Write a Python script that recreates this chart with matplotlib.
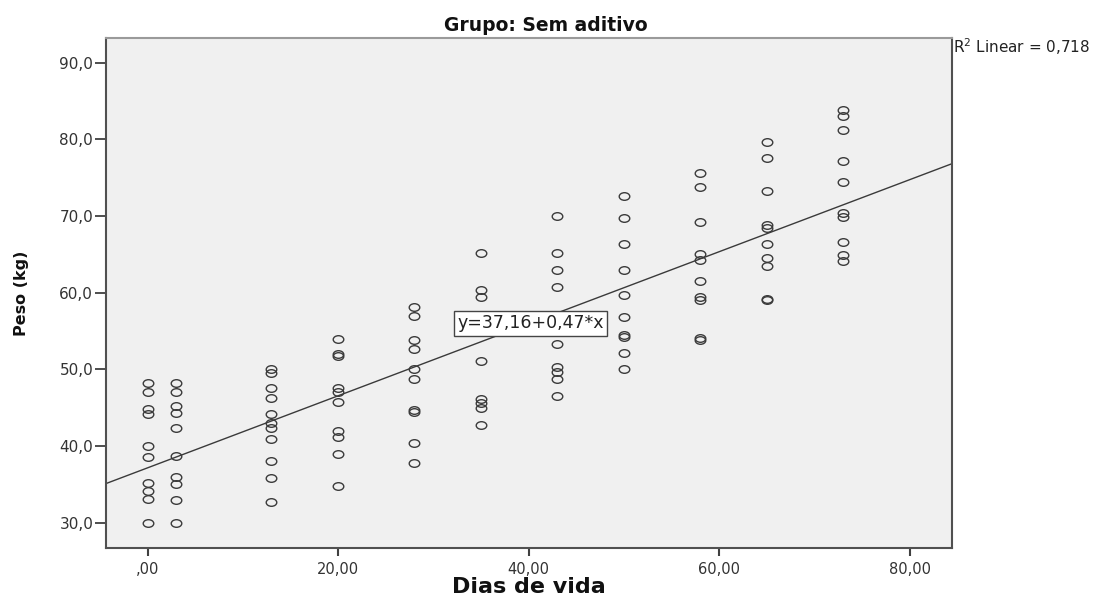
import numpy as np
import matplotlib
matplotlib.use("Agg")
import matplotlib.pyplot as plt
from matplotlib.path import Path

# ---- data ----
days = [0, 3, 13, 20, 28, 35, 43, 50, 58, 65, 73]
weights = [
    [48.2, 47.0, 44.8, 44.2, 40.0, 38.6, 35.2, 34.1, 33.1, 30.0],          # 0
    [48.2, 47.0, 45.2, 44.3, 42.4, 38.7, 36.0, 35.0, 33.0, 30.0],          # 3
    [50.0, 49.5, 47.6, 46.3, 44.2, 43.0, 42.4, 40.9, 38.0, 35.8, 32.7],    # 13
    [54.0, 52.0, 51.7, 47.6, 47.0, 45.7, 42.0, 41.2, 39.0, 34.8],          # 20
    [58.2, 57.0, 53.8, 52.7, 50.0, 48.8, 44.7, 44.5, 40.4, 37.8],          # 28
    [65.2, 60.3, 59.5, 51.1, 46.2, 45.6, 45.0, 42.7],                      # 35
    [70.0, 65.2, 63.0, 60.8, 53.3, 50.3, 49.6, 48.8, 46.5],                # 43
    [72.6, 69.7, 66.4, 63.0, 59.7, 56.8, 54.5, 54.2, 52.1, 50.0],          # 50
    [75.6, 73.8, 69.2, 65.1, 64.3, 61.6, 59.4, 59.1, 54.1, 53.9],          # 58
    [79.7, 77.6, 73.3, 68.9, 68.5, 66.4, 64.6, 63.5, 59.2, 59.0],          # 65
    [83.8, 83.0, 81.2, 77.2, 74.5, 70.4, 69.9, 66.6, 64.9, 64.2],          # 73
]
fit_intercept = 37.16
fit_slope = 0.47
r2_value = "0,718"
title = "Grupo: Sem aditivo"
xlabel = "Dias de vida"
ylabel = "Peso (kg)"
eq_label = "y=37,16+0,47*x"
xticks = [0, 20, 40, 60, 80]
xticklabels = [",00", "20,00", "40,00", "60,00", "80,00"]
yticks = [30, 40, 50, 60, 70, 80, 90]
yticklabels = ["30,0", "40,0", "50,0", "60,0", "70,0", "80,0", "90,0"]

x_all = np.concatenate([[d] * len(w) for d, w in zip(days, weights)])
y_all = np.concatenate(weights)

fig = plt.figure(figsize=(11.1, 6.05), dpi=100)
ax = fig.add_axes([105.7 / 1110, 1 - 548.3 / 605, (951.7 - 105.7) / 1110, (548.3 - 38.3) / 605])
ax.set_facecolor("#f0f0f0")
ax.set_xlim(-4.4, 84.4)
ax.set_ylim(26.66, 93.2)

circ = Path.unit_circle()
ell = Path(circ.vertices * np.array([1.0, 0.72]), circ.codes)

ax.plot(x_all, y_all, linestyle="none", marker=ell, markersize=7.6,
        markerfacecolor="none", markeredgecolor="#3a3a3a", markeredgewidth=1.0, zorder=3)

xl = np.array(ax.get_xlim())
ax.plot(xl, fit_intercept + fit_slope * xl, color="#3a3a3a", lw=1.0, zorder=2)

ax.text(40.2, 56.0, eq_label, ha="center", va="center", fontsize=12.5, color="#222222",
        bbox=dict(boxstyle="square,pad=0.2", facecolor="white", edgecolor="#444444", lw=1.0), zorder=4)

for s in ["left", "right", "bottom"]:
    ax.spines[s].set_color("#505050")
    ax.spines[s].set_linewidth(1.5)
ax.spines["top"].set_color("#9a9a9a")
ax.spines["top"].set_linewidth(1.5)

ax.set_xticks(xticks)
ax.set_xticklabels(xticklabels)
ax.set_yticks(yticks)
ax.set_yticklabels(yticklabels)
ax.tick_params(axis="x", direction="out", length=6, width=1.5, color="#404040",
               labelsize=10.5, labelcolor="#333333", pad=4)
ax.tick_params(axis="y", direction="out", length=8, width=1.3, color="#404040",
               labelsize=11, labelcolor="#333333", pad=1)

ax.set_xlabel(xlabel, fontsize=16, fontweight="bold", labelpad=0, color="#111111")
ax.set_ylabel(ylabel, fontsize=11.5, fontweight="bold", color="#111111")
ax.yaxis.set_label_coords((29 - 105.7) / 846, 0.5)
ax.set_title(title, fontsize=13.5, fontweight="bold", pad=5, color="#111111",
             x=(546 - 105.7) / 846)

fig.text(953 / 1110, 1 - 47 / 605, "R$^2$ Linear = " + r2_value, fontsize=11,
         ha="left", va="center", color="#222222")

fig.savefig("out.png", dpi=100, facecolor="white")
